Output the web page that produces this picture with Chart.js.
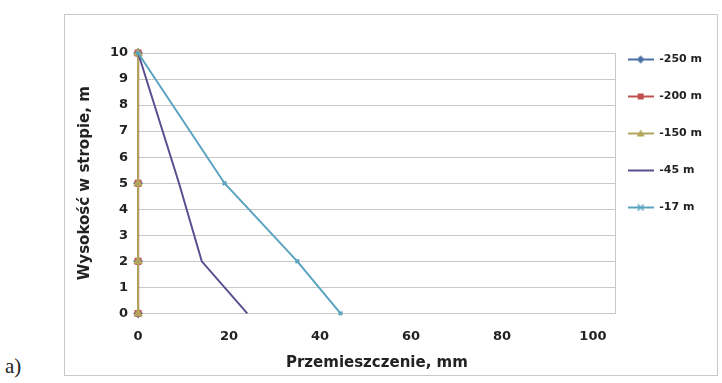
<!DOCTYPE html>
<html>
<head>
<meta charset="utf-8">
<script src="https://cdn.jsdelivr.net/npm/chart.js@4.4.1/dist/chart.umd.min.js"></script>
<style>
    body { margin: 0; background: #fff; }
    #wrap { position: relative; width: 722px; height: 383px; }
    #ramka { position: absolute; left: 64px; top: 14px; width: 654px; height: 362px; border: 1px solid #c8c8c8; box-sizing: border-box; }
    #podpis { position: absolute; left: 5px; top: 354px; font: 21px "Liberation Serif", serif; color: #222; }
    canvas { position: absolute; left: 0; top: 0; }
</style>
</head>
<body>
<div id="wrap">
    <div id="ramka"></div>
    <div id="podpis">a)</div>
    <canvas id="wykres" width="722" height="383"></canvas>
</div>
<script>
// Dane
const serie = ["-250 m", "-200 m", "-150 m", "-45 m", "-17 m"];
const wysokosc = [10, 5, 2, 0];
const przem_250 = [0, 0, 0, 0];
const przem_200 = [0, 0, 0, 0];
const przem_150 = [0, 0, 0, 0];
const przem_45 = [0, 9, 14, 24];
const przem_17 = [0, 19, 35, 44.5];
const xTicks = [0, 20, 40, 60, 80, 100];

const kolory = ["#4a6fa5", "#c0504d", "#b3a55c", "#5b4f8f", "#5aa3bf"];
const znaczniki = ["rectRot", "rect", "triangle", false, "crossRot"];

function punkty(xs) {
    return xs.map((x, i) => ({ x: x, y: wysokosc[i] }));
}

// mala ikona legendy: linia + znacznik
function ikona(kolor, styl) {
    const c = document.createElement("canvas");
    c.width = 26; c.height = 10;
    const g = c.getContext("2d");
    g.strokeStyle = kolor; g.fillStyle = kolor; g.lineWidth = 2;
    g.beginPath(); g.moveTo(0, 5); g.lineTo(26, 5); g.stroke();
    if (styl) {
        g.beginPath();
        if (styl === "rect") g.rect(10, 2, 6, 6);
        else if (styl === "rectRot") { g.moveTo(13, 1); g.lineTo(17, 5); g.lineTo(13, 9); g.lineTo(9, 5); g.closePath(); }
        else if (styl === "triangle") { g.moveTo(13, 1); g.lineTo(17, 8); g.lineTo(9, 8); g.closePath(); }
        else if (styl === "crossRot") { g.lineWidth = 1.5; g.moveTo(10, 2); g.lineTo(16, 8); g.moveTo(16, 2); g.lineTo(10, 8); g.stroke(); }
        if (styl !== "crossRot") g.fill();
    }
    return c;
}

// przesuniecie legendy (w gore i w lewo), jak w oryginale
const przesunLegende = {
    id: "przesunLegende",
    afterLayout(chart) {
        const l = chart.legend;
        l.top -= 25; l.bottom -= 25;
        l.left -= 14; l.right -= 14;
    },
};

const dane = [przem_250, przem_200, przem_150, przem_45, przem_17];
const datasets = dane.map((xs, i) => ({
    label: serie[i],
    data: punkty(xs),
    showLine: true,
    clip: false,
    borderColor: kolory[i],
    backgroundColor: kolory[i],
    borderWidth: 2,
    pointStyle: znaczniki[i] || "circle",
    pointRadius: znaczniki[i] ? (i === 4 ? 2.5 : 3.5) : 0,
    order: 5 - i,
}));

const fontOs = { family: "DejaVu Sans", size: 13, weight: "bold" };
const fontTytul = { family: "DejaVu Sans", size: 15, weight: "bold" };

new Chart(document.getElementById("wykres"), {
    type: "scatter",
    data: { datasets: datasets },
    options: {
        responsive: false,
        animation: false,
        layout: { padding: { left: 76, top: 53, right: -4, bottom: 11 } },
        plugins: {
            tooltip: { enabled: false },
            legend: {
                position: "right",
                align: "start",
                labels: {
                    usePointStyle: true,
                    pointStyleWidth: 26,
                    padding: 26,
                    color: "#222",
                    font: { family: "DejaVu Sans", size: 11, weight: "bold" },
                    generateLabels: (chart) => chart.data.datasets.map((d, i) => ({
                        text: d.label,
                        pointStyle: ikona(kolory[i], znaczniki[i]),
                        fillStyle: kolory[i],
                        strokeStyle: kolory[i],
                        lineWidth: 0,
                        datasetIndex: i,
                        fontColor: "#222",
                    })),
                },
            },
        },
        scales: {
            x: {
                type: "linear",
                min: 0,
                max: 105,
                afterBuildTicks: (axis) => {
                    axis.ticks = xTicks.map(v => ({ value: v })).concat([{ value: 105 }]);
                },
                ticks: {
                    color: "#222",
                    padding: 15,
                    maxRotation: 0,
                    font: fontOs,
                    callback: (v) => (xTicks.includes(v) ? v : ""),
                },
                grid: {
                    drawTicks: false,
                    color: (ctx) => (ctx.tick && ctx.tick.value === 105 ? "#c8c8c8" : "rgba(0,0,0,0)"),
                },
                border: { color: "#c8c8c8" },
                title: {
                    display: true,
                    text: "Przemieszczenie, mm",
                    color: "#222",
                    padding: { top: -5, bottom: 0 },
                    font: fontTytul,
                },
            },
            y: {
                min: 0,
                max: 10,
                ticks: {
                    stepSize: 1,
                    color: "#222",
                    padding: 10,
                    font: fontOs,
                },
                grid: { drawTicks: false, color: "#c8c8c8" },
                border: { color: "#c8c8c8" },
                title: {
                    display: true,
                    text: "Wysokość w stropie, m",
                    color: "#222",
                    padding: { top: 0, bottom: 6 },
                    font: fontTytul,
                },
            },
        },
    },
    plugins: [przesunLegende],
});
</script>
</body>
</html>
